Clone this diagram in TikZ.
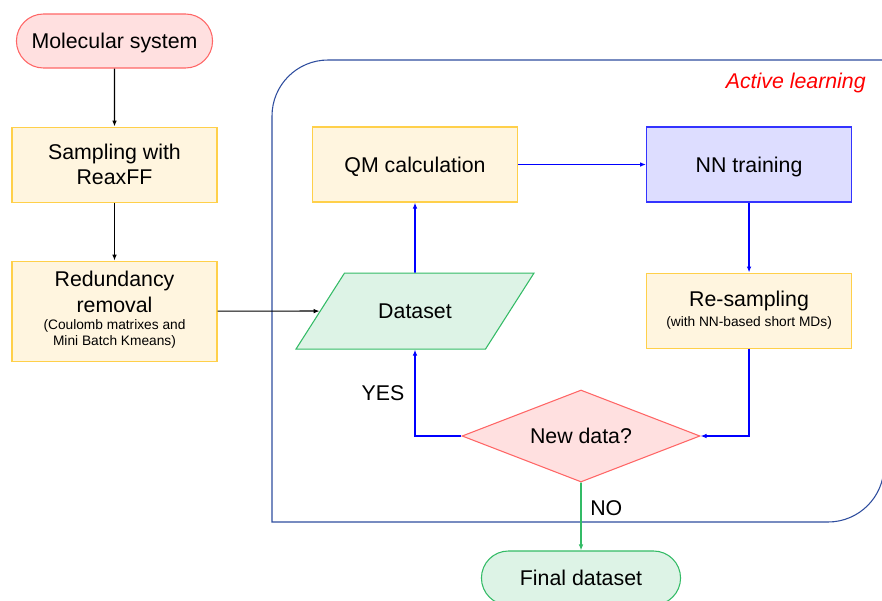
\documentclass[tikz,border=0pt]{standalone}
\usepackage{fontspec}
\setmainfont{Liberation Sans}
\usetikzlibrary{positioning,arrows.meta,shapes.geometric,shapes.misc}

\definecolor{pinkfill}{HTML}{FFE0E0}
\definecolor{pinkline}{HTML}{FF6666}
\definecolor{yelfill}{HTML}{FFF5DF}
\definecolor{yelline}{HTML}{FFD04A}
\definecolor{bluefill}{HTML}{DDDDFF}
\definecolor{blueline}{HTML}{3333FF}
\definecolor{grnfill}{HTML}{DDF3E6}
\definecolor{grnline}{HTML}{33BB66}
\definecolor{frameline}{HTML}{2E4D9E}

\newcommand{\smallfnt}{\fontsize{10.3}{12.5}\selectfont}

\begin{document}
\begin{tikzpicture}[
  x=0.75pt, y=-0.75pt,
  font=\fontsize{16}{19}\selectfont,
  node distance=43.5pt,
  proc/.style={draw=yelline, fill=yelfill, line width=0.8pt,
               minimum width=153.75pt, minimum height=56.25pt,
               align=center, inner sep=3pt},
  oneline/.style={text depth=0pt},
  term/.style={rounded rectangle, line width=0.8pt, oneline,
               minimum width=153.75pt, minimum height=40.5pt},
  arrow/.style={-{Latex[length=4.5pt,width=3.5pt]}, line width=0.9pt},
  barrow/.style={arrow, blue, line width=1.2pt},
  garrow/.style={arrow, grnline, line width=1.2pt}
]
\useasboundingbox (0,0) rectangle (882,600);

% active learning frame
\draw[frameline, line width=0.8pt] (884,60) -- (328,60)
  arc[start angle=90, end angle=180, radius=42pt] -- (272,522) -- (828,522)
  arc[start angle=270, end angle=360, radius=42pt] -- cycle;
\node[anchor=east, inner sep=0pt, text=red, font=\fontsize{16}{19}\selectfont\itshape]
  (al) at (866,83) {Active learning};

% preparation
\node[term, draw=pinkline, fill=pinkfill] (mol) at (114.5,41) {Molecular system};
\node[proc, below=of mol] (samp) {Sampling with\\ReaxFF};
\node[proc, below=of samp, minimum height=75pt] (red) {Redundancy\\removal\\
  \smallfnt\begin{tabular}{@{}c@{}}(Coulomb matrixes and\\Mini Batch Kmeans)\end{tabular}};

% loop
\node[proc, oneline] (qm) at (415,164.5) {QM calculation};
\node[proc, oneline, draw=blueline, fill=bluefill, right=96pt of qm] (nn) {NN training};
\node[trapezium, trapezium left angle=57, trapezium right angle=123,
      trapezium stretches body=true, draw=grnline, fill=grnfill, line width=0.8pt,
      oneline, inner ysep=22.5pt,
      minimum width=178.5pt, minimum height=57pt, below=52.5pt of qm] (ds) {Dataset};
\node[proc, below=52.5pt of nn] (res) {Re-sampling\\[-4pt]\smallfnt (with NN-based short MDs)};
\node[diamond, aspect=2.6, draw=pinkline, fill=pinkfill, line width=0.8pt,
      inner sep=0pt, oneline,
      minimum width=178.5pt, minimum height=69pt] (nd) at (581,436) {New data?};
\node[term, draw=grnline, fill=grnfill, minimum width=156pt] (fin) at (581,578) {Final dataset};

\draw[arrow] (mol) -- (samp);
\draw[arrow] (samp) -- (red);
\draw[arrow] (red) -- (ds);
\draw[barrow] (ds) -- (qm);
\draw[barrow] (qm) -- (nn);
\draw[barrow] (nn) -- (res);
\draw[barrow] (res.south) |- (nd.east);
\draw[barrow] (nd.west) -| (ds.south) node[pos=0.75, left=4pt, black] {YES};
\draw[garrow] (nd) -- (fin) node[pos=0.37, right=3pt, black] {NO};
\end{tikzpicture}
\end{document}
